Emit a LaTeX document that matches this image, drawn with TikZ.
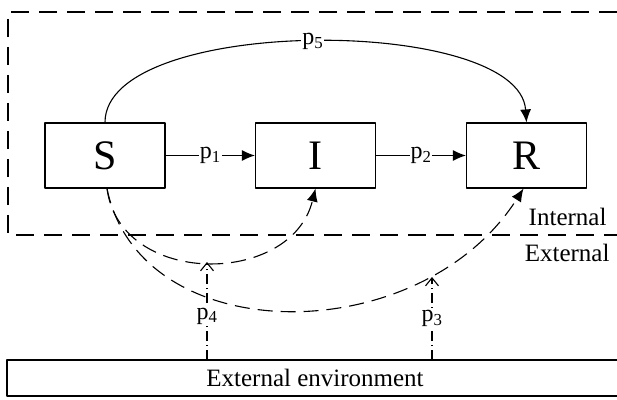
\documentclass[tikz,border=0pt]{standalone}
\usepackage{fontspec}
\setmainfont{Liberation Serif}
\usetikzlibrary{arrows.meta}

\begin{document}
\begin{tikzpicture}[line cap=round,line join=round,>={Latex[length=13pt,width=11pt]},x=1pt,y=1pt,line width=1.1pt,
  state/.style={draw,minimum width=120pt,minimum height=65pt,inner sep=0pt,font=\fontsize{42}{42}\selectfont},
  plab/.style={fill=white,inner sep=1pt,font=\fontsize{24}{24}\selectfont},
  txt/.style={inner sep=0pt,font=\fontsize{25}{25}\selectfont},
  border/.style={dash pattern=on 18pt off 10pt,line cap=butt},
  flow/.style={dash pattern=on 15pt off 8pt,line cap=butt},
  ext/.style={dash pattern=on 10pt off 4pt on 1pt off 4pt,line cap=butt}]
\useasboundingbox (0,0) rectangle (617,399);
% internal boundary
\draw [border] (617,387)--(8,387)--(8,164)--(617,164);
\node[txt,anchor=east] at (607,182) {Internal};
\node[txt,anchor=east] at (610,146) {External};
% compartments
\node[state] (S) at (105,243.5) {S};
\node[state] (I) at (315.5,243.5) {I};
\node[state] (R) at (526.5,243.5) {R};
\draw [->] (S)--(I) node [plab,midway] {p\textsubscript{1}};
\draw [->] (I)--(R) node [plab,midway] {p\textsubscript{2}};
\draw [->] (S.north) .. controls (105,384) and (519,384) .. (R.north) node [plab,pos=0.5] {p\textsubscript{5}};
% external environment
\draw (617,39)--(7,39)--(7,3)--(617,3);
\node[txt] (env) at (315,21) {External environment};
\coordinate (p4b) at (207,39);
\coordinate (p4t) at (207,137);
\coordinate (p3b) at (432,39);
\coordinate (p3t) at (432,122);
\draw [flow,->] ([xshift=2pt]S.south) .. controls (120,112) and (291,112) .. (I.south);
\draw [flow,->] ([xshift=2pt]S.south) .. controls (140,48) and (420,48) .. ([xshift=-3pt]R.south);
\draw [ext,-{Straight Barb[length=8pt,width=13pt]}] (p4b)--(p4t) node [plab,pos=0.45] {p\textsubscript{4}};
\draw [ext,-{Straight Barb[length=8pt,width=13pt]}] (p3b)--(p3t) node [plab,pos=0.5] {p\textsubscript{3}};
\end{tikzpicture}
\end{document}
